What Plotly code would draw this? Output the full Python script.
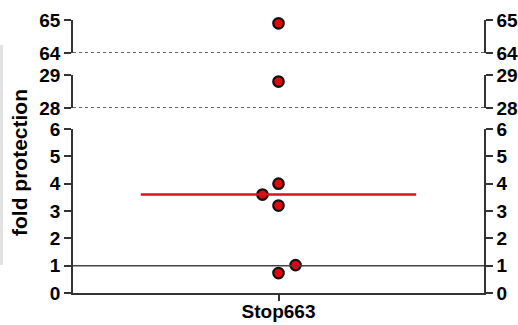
import numpy as np
import plotly.graph_objects as go

# ---- data ----
category = ["Stop663"]
values = [64.9, 28.8, 4.0, 3.6, 3.2, 1.02, 0.73]
reference_level = 1
segments = [(0, 6), (28, 29), (64, 65)]          # broken-axis segments (bottom, middle, top)
seg_ticks = [[0, 1, 2, 3, 4, 5, 6], [28, 29], [64, 65]]
y_title = "fold protection"

# ---- layout constants (positions / styles) ----
jitter = [0, 0, 0, -0.078, 0, 0.083, 0]
median_halfwidth = 0.67
W, H = 518, 325
L, R, T, B = 73, 34, 20, 32
plot_h = H - T - B
def py(pix):  # pixel row -> paper y
    return (H - B - pix) / plot_h
def px(pix):
    return (pix - L) / (W - L - R)
domains = [[0, py(129)], [py(108), py(75)], [py(53), 1.0]]
axcol = "#333333"
font = dict(family="Liberation Sans, Arial, sans-serif", size=19, color="black", weight="bold")

fig = go.Figure()
names = ["y", "y2", "y3"]
for i, (lo, hi) in enumerate(segments):
    xs = [jitter[k] for k, v in enumerate(values) if lo <= v <= hi]
    ys = [v for v in values if lo <= v <= hi]
    fig.add_trace(go.Scatter(x=xs, y=ys, mode="markers", yaxis=names[i], cliponaxis=False,
                             marker=dict(size=10.5, color="#e8000b", line=dict(color="#111111", width=2.2)),
                             showlegend=False, hoverinfo="skip"))

med = float(np.median(values))
fig.add_trace(go.Scatter(x=[-median_halfwidth, median_halfwidth], y=[med, med], mode="lines",
                         line=dict(color="#d9121b", width=2.5), yaxis="y", showlegend=False,
                         hoverinfo="skip"))
# dummy traces for right axes
for n in ["y4", "y5", "y6"]:
    fig.add_trace(go.Scatter(x=[None], y=[None], yaxis=n, showlegend=False, hoverinfo="skip"))

common = dict(showgrid=False, zeroline=False, showline=True, linecolor=axcol, linewidth=1.5,
              ticks="outside", ticklen=7, tickwidth=1.5, tickcolor=axcol, tickfont=font,
              fixedrange=True, automargin=False)
layout = dict(
    width=W, height=H, margin=dict(l=L, r=R, t=T, b=B, autoexpand=False),
    paper_bgcolor="white", plot_bgcolor="white",
    xaxis=dict(range=[-1, 1], tickvals=[0], ticktext=category, showgrid=False, zeroline=False,
               showline=True, linecolor=axcol, linewidth=1.5, ticks="outside", ticklen=6,
               tickwidth=1.5, tickcolor=axcol, tickfont=font, anchor="y", automargin=False,
               ticklabelstandoff=-6),
)
for i, (lo, hi) in enumerate(segments):
    key = "yaxis" if i == 0 else f"yaxis{i+1}"
    layout[key] = dict(common, range=[lo, hi], tickvals=seg_ticks[i], domain=domains[i],
                       anchor="x", side="left")
    rkey = f"yaxis{i+4}"
    layout[rkey] = dict(common, range=[lo, hi], tickvals=seg_ticks[i], anchor="x",
                        overlaying=names[i], side="right")
fig.update_layout(**layout)

shapes = []
shapes.append(dict(type="line", xref="paper", x0=0, x1=1, yref="y", y0=reference_level,
                   y1=reference_level, line=dict(color="#444444", width=1.5)))
shapes.append(dict(type="line", xref="paper", x0=0, x1=1, yref="y2", y0=segments[1][0],
                   y1=segments[1][0], line=dict(color="#333333", width=1.3, dash="dot")))
shapes.append(dict(type="line", xref="paper", x0=0, x1=1, yref="y3", y0=segments[2][0],
                   y1=segments[2][0], line=dict(color="#333333", width=1.3, dash="dot")))
shapes.append(dict(type="line", xref="paper", x0=px(1.5), x1=px(1.5), yref="paper",
                   y0=py(265), y1=py(45), line=dict(color="#e2e2e2", width=3)))
fig.update_layout(shapes=shapes)

fig.add_annotation(text=y_title, xref="paper", yref="paper", x=px(20), y=py(162),
                   textangle=-90, showarrow=False, xanchor="center", yanchor="middle",
                   font=dict(family="Liberation Sans, Arial, sans-serif", size=21,
                             color="black", weight="bold"))

fig.write_html("out.html")
